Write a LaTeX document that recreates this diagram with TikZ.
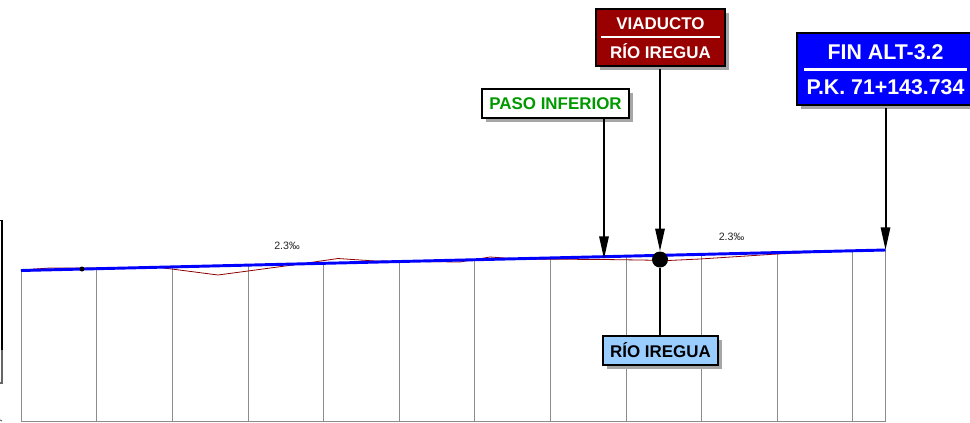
\documentclass[tikz,border=0pt]{standalone}
\usepackage{fontspec}
\setmainfont{Liberation Sans}
\usetikzlibrary{arrows.meta}
\usetikzlibrary{shadows}
\tikzset{
  label box/.style={draw=black,line width=1.6pt,inner sep=0pt,font=\bfseries\fontsize{12.7}{14}\selectfont,drop shadow={shadow xshift=3pt,shadow yshift=-3pt,fill=black!35,opacity=1}},
  box text/.style={inner sep=0pt,text=white,font=\bfseries\fontsize{12.7}{14}\selectfont},
  fin text/.style={inner sep=0pt,text=white,font=\bfseries\fontsize{16}{18}\selectfont},
  slope text/.style={inner sep=0pt,text=black!85,font=\fontsize{8}{9}\selectfont},
  box rule/.style={draw=white,line width=1.6pt},
  leader/.style={draw=black,line width=1.5pt},
  pointer/.style={leader,-{Triangle[length=17pt,width=7pt]}},
  grid line/.style={draw=black!45,line width=0.6pt},
  terrain/.style={draw=red!55!black,line width=0.6pt},
  grade line/.style={draw=blue,line width=2.2pt}
}
\begin{document}
\begin{tikzpicture}[x=0.75pt,y=-0.75pt]
  \useasboundingbox[fill=white] (0,0) rectangle (970,422);
  \clip (0,0) rectangle (970,422);
  %left edge
  \draw[line width=1pt] (0,220.5) -- (2,220.5) -- (2,350);
  \draw[draw=black!60,line width=0.8pt] (2,350) -- (2,383) -- (0,383);
  \draw[draw=black!60,line width=0.8pt] (0,420) -- (2,421);
  %grid
  \foreach \gx/\gy in {21/270.5,96.5/268.7,172/266.9,248/265.1,323/263.3,399/261.5,474.5/259.7,550/257.9,626/256.1,701/254.4,777/252.6,852.5/250.8,885.5/250}
    \draw[grid line] (\gx,\gy) -- (\gx,421);
  \draw[grid line] (21,421) -- (885.5,421);
  %profile
  \draw[terrain] (21,270) -- (50,268) -- (82,268) -- (160,267.5) -- (218,275) -- (248,271) -- (300,264) -- (338,258.5) -- (375,261) -- (460,262) -- (490,257) -- (520,259) -- (604,259.5) -- (640,260) -- (668,260.5) -- (700,259) -- (777,254) -- (820,252);
  \coordinate (start) at (21,270.5);
  \coordinate (end) at (885.5,250);
  \draw[line width=1.2pt] (start) -- (82,269);
  \draw[grade line] (start) -- (end);
  \fill (82,269) circle (2.5);
  \node[slope text] (slope1) at (287,245.5) {2.3‰};
  \node[slope text] (slope2) at (731.5,236.5) {2.3‰};
  %paso inferior
  \node[label box,fill=white,text=green!60!black,minimum width=110.25pt,minimum height=21.75pt] (paso) at (555.5,103.5) {PASO INFERIOR};
  \coordinate (pasoend) at (604,259);
  \draw[pointer] (paso.south -| pasoend) -- (pasoend);
  %rio
  \node[circle,fill=black,inner sep=0pt,minimum size=12pt] (pila) at (660,259.5) {};
  \node[label box,fill={rgb,255:red,153;green,204;blue,255},text=black,minimum width=86.25pt,minimum height=21.75pt] (rio) at (660.5,350.5) {RÍO IREGUA};
  \draw[leader] (pila) -- (pila |- rio.north);
  %viaducto
  \node[label box,fill={rgb,255:red,153;green,0;blue,0},minimum width=96.75pt,minimum height=42.75pt] (viaducto) at (660.5,37.5) {};
  \node[box text] (viaductoa) at (660.5,23.5) {VIADUCTO};
  \node[box text] (viaductob) at (660.5,51) {RÍO IREGUA};
  \draw[box rule] (601,37) -- (720,37);
  \draw[pointer] (pila |- viaducto.south) ++(0,2) -- (pila.north);
  %fin
  \node[label box,fill=blue,minimum width=130pt,minimum height=54pt] (fin) at (884,69) {};
  \node[fin text] (fina) at (885.5,52.5) {FIN ALT-3.2};
  \node[fin text] (finb) at (885.5,87.5) {P.K. 71+143.734};
  \draw[box rule] (804,69.5) -- (967,69.5);
  \draw[pointer] (fin.south -| end) ++(0,2) -- (end);
\end{tikzpicture}
\end{document}
